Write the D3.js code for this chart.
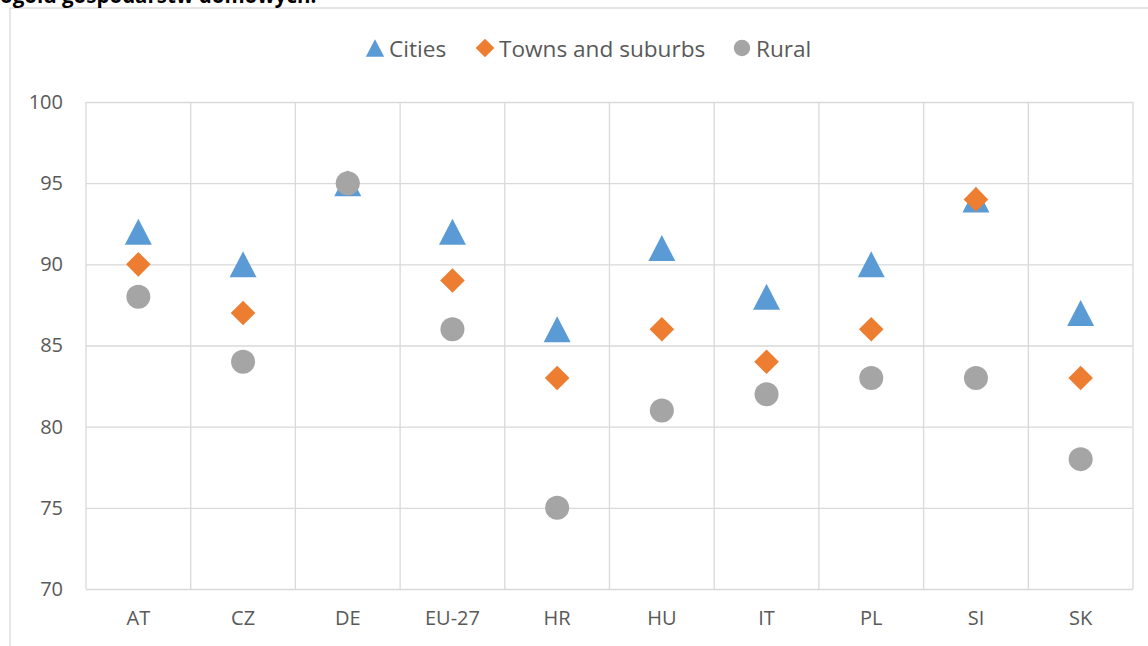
<!DOCTYPE html>
<html lang="pl">
  <head>
    <meta charset="UTF-8" />
    <title>Cities / Towns and suburbs / Rural</title>
    <style>
      body { margin: 0; background: #fff; }
      svg { display: block; font-family: "Open Sans", sans-serif; }
      .grid line { stroke: #d9d9d9; stroke-width: 1.3; }
      .grid path { display: none; }
      .tick text { fill: #595959; }
    </style>
  </head>
  <body>
    <svg width="1148" height="646"></svg>
    <script src="https://d3js.org/d3.v7.min.js"></script>
    <script>
      // dane
      const countries = ["AT", "CZ", "DE", "EU-27", "HR", "HU", "IT", "PL", "SI", "SK"];
      const cities = [92, 90, 95, 92, 86, 91, 88, 90, 94, 87];
      const towns = [90, 87, 95, 89, 83, 86, 84, 86, 94, 83];
      const rural = [88, 84, 95, 86, 75, 81, 82, 83, 83, 78];
      const yTicks = [70, 75, 80, 85, 90, 95, 100];
      const seriesNames = ["Cities", "Towns and suburbs", "Rural"];

      const svg = d3.select("svg");
      const margin = { left: 86, right: 15, top: 102, bottom: 57 };
      const width = +svg.attr("width") - margin.left - margin.right;
      const height = +svg.attr("height") - margin.top - margin.bottom;

      // ramka wykresu (wychodzi poza obraz)
      svg.append("rect")
        .attr("x", 10).attr("y", 8)
        .attr("width", 1200).attr("height", 700)
        .attr("fill", "none").attr("stroke", "#d9d9d9").attr("stroke-width", 1.3);

      // tytuł ucięty u góry
      svg.append("text")
        .attr("x", 0).attr("y", 2.5)
        .attr("font-weight", "bold").attr("font-size", 20.5)
        .attr("fill", "#000")
        .text("ogółu gospodarstw domowych.");

      const x = d3.scaleBand().domain(countries).range([0, width]);
      const y = d3.scaleLinear().domain([70, 100]).range([height, 0]);

      const g = svg.append("g")
        .attr("transform", "translate(" + margin.left + "," + margin.top + ")");

      // siatka pozioma + etykiety osi Y
      g.append("g")
        .attr("class", "grid")
        .call(d3.axisLeft(y).tickValues(yTicks).tickSize(-width).tickPadding(23))
        .attr("font-family", null).attr("font-size", 20);

      // siatka pionowa
      g.append("g")
        .attr("class", "grid")
        .selectAll("line")
        .data(countries.concat(["end"]))
        .enter()
        .append("line")
        .attr("x1", (d, i) => i * x.step())
        .attr("x2", (d, i) => i * x.step())
        .attr("y1", 0)
        .attr("y2", height);

      // etykiety osi X
      g.append("g")
        .attr("class", "grid")
        .attr("transform", "translate(0," + height + ")")
        .call(d3.axisBottom(x).tickSize(0).tickPadding(22))
        .attr("font-family", null).attr("font-size", 20);

      // symbole
      const triangle = {
        draw(ctx, size) {
          const w = 27, h = 26;
          ctx.moveTo(0, -h / 2);
          ctx.lineTo(w / 2, h / 2);
          ctx.lineTo(-w / 2, h / 2);
          ctx.closePath();
        }
      };
      const diamond = {
        draw(ctx, size) {
          const r = 12.3;
          ctx.moveTo(0, -r);
          ctx.lineTo(r, 0);
          ctx.lineTo(0, r);
          ctx.lineTo(-r, 0);
          ctx.closePath();
        }
      };
      const series = [
        { name: seriesNames[0], values: cities, color: "#5b9bd5", type: triangle },
        { name: seriesNames[1], values: towns, color: "#ed7d31", type: diamond },
        { name: seriesNames[2], values: rural, color: "#a5a5a5", type: d3.symbolCircle, size: Math.PI * 12 * 12 }
      ];

      series.forEach(s => {
        g.append("g")
          .selectAll("path")
          .data(s.values)
          .enter()
          .append("path")
          .attr("d", d3.symbol().type(s.type).size(s.size || 64))
          .attr("fill", s.color)
          .attr("transform", (d, i) =>
            "translate(" + (x(countries[i]) + x.bandwidth() / 2) + "," + y(d) + ")");
      });

      // legenda
      const legendSyms = [
        { type: triangle, size: 64, scale: 0.68 },
        { type: diamond, size: 64, scale: 0.76 },
        { type: d3.symbolCircle, size: Math.PI * 8.2 * 8.2, scale: 1 }
      ];
      const legendX = [375, 485, 742];
      const leg = svg.append("g").attr("transform", "translate(0,48)");
      series.forEach((s, i) => {
        const it = leg.append("g").attr("transform", "translate(" + legendX[i] + ",0)");
        it.append("path")
          .attr("d", d3.symbol().type(legendSyms[i].type).size(legendSyms[i].size))
          .attr("transform", "scale(" + legendSyms[i].scale + ")")
          .attr("fill", s.color);
        it.append("text")
          .attr("x", 14)
          .attr("y", 8.5)
          .attr("font-size", 22.6)
          .attr("fill", "#595959")
          .text(s.name);
      });
    </script>
  </body>
</html>
